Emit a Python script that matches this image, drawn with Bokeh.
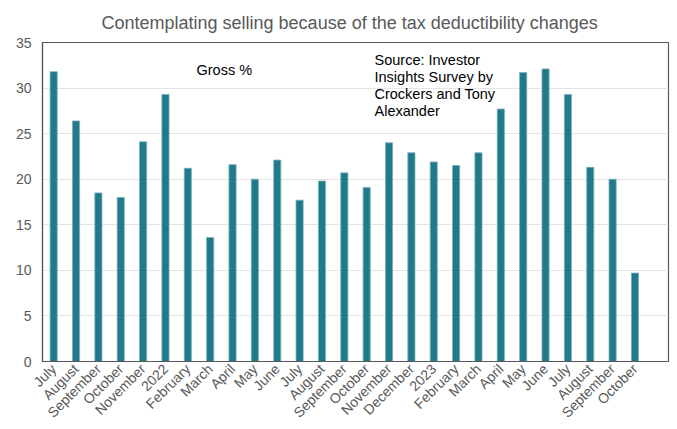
from bokeh.plotting import figure
from bokeh.models import Range1d, FixedTicker, Label, Title
from bokeh.embed import file_html
from bokeh.resources import INLINE

months = ["July", "August", "September", "October", "November", "2022",
          "February", "March", "April", "May", "June", "July", "August",
          "September", "October", "November", "December", "2023", "February",
          "March", "April", "May", "June", "July", "August", "September", "October"]
gross = [31.8, 26.4, 18.5, 18.0, 24.1, 29.3, 21.2, 13.6, 21.6, 20.0, 22.1,
         17.7, 19.8, 20.7, 19.1, 24.0, 22.9, 21.9, 21.5, 22.9, 27.7, 31.7,
         32.1, 29.3, 21.3, 20.0, 9.7]
y_ticks = [0, 5, 10, 15, 20, 25, 30, 35]

xs = list(range(len(months)))
FONT = "Liberation Sans"
GREY = "#595959"

p = figure(width=677, height=429, output_backend="svg", toolbar_location=None,
           x_range=Range1d(-0.5, len(months) + 0.5), y_range=Range1d(0, 35),
           min_border_left=42, min_border_right=9, min_border_top=42,
           min_border_bottom=68)

p.vbar(x=xs, top=gross, width=0.32, fill_color="#1F7A8C", line_color="#7FB0BB",
       line_width=0.8)

p.title = Title(text="Contemplating selling because of the tax deductibility changes",
                align="left", text_font=FONT, text_font_size="18px",
                text_font_style="normal", text_color=GREY, offset=59,
                standoff=20)

p.xaxis.ticker = FixedTicker(ticks=xs)
p.xaxis.major_label_overrides = {i: m for i, m in enumerate(months)}
p.xaxis.major_label_orientation = 0.785398
p.yaxis.ticker = FixedTicker(ticks=y_ticks)

for ax in (p.xaxis[0], p.yaxis[0]):
    ax.major_tick_line_color = None
    ax.minor_tick_line_color = None
    ax.major_tick_out = 0
    ax.major_tick_in = 0
    ax.minor_tick_out = 0
    ax.axis_line_color = GREY
    ax.axis_line_width = 1.2
    ax.major_label_text_font = FONT
    ax.major_label_text_font_size = "14px"
    ax.major_label_text_color = GREY
p.yaxis.major_label_standoff = 11
p.xaxis.major_label_standoff = 5

p.xgrid.grid_line_color = None
p.ygrid.grid_line_color = "#E3E3E3"
p.ygrid.grid_line_width = 1
p.outline_line_color = GREY
p.outline_line_width = 1.2

p.add_layout(Label(x=154, y=292, x_units="screen", y_units="screen",
                   text="Gross %", text_font=FONT, text_font_size="14.5px",
                   text_color="#000000", text_baseline="middle"))

src_lines = ["Source: Investor", "Insights Survey by", "Crockers and Tony", "Alexander"]
for i, line in enumerate(src_lines):
    p.add_layout(Label(x=332, y=302 - i * 17, x_units="screen", y_units="screen",
                       text=line, text_font=FONT, text_font_size="14.5px",
                       text_color="#000000", text_baseline="middle"))

open("out.html", "w").write(file_html(p, INLINE))
